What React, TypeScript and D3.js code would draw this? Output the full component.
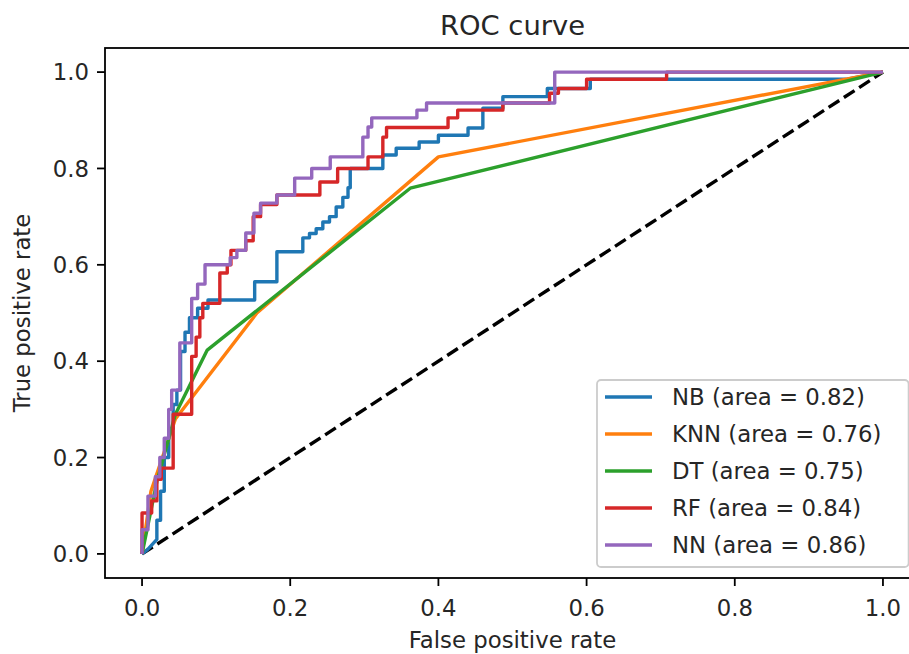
import React from "react";
import * as d3 from "d3";

// ---- Data ----
const nbFpr = [0, 0.008, 0.02, 0.02, 0.025, 0.025, 0.03, 0.03, 0.036, 0.036, 0.042, 0.042, 0.047, 0.047, 0.052, 0.052, 0.058, 0.058, 0.064, 0.064, 0.075, 0.075, 0.089, 0.089, 0.152, 0.152, 0.182, 0.182, 0.217, 0.217, 0.226, 0.226, 0.235, 0.235, 0.244, 0.244, 0.253, 0.253, 0.262, 0.262, 0.271, 0.271, 0.278, 0.278, 0.281, 0.281, 0.325, 0.325, 0.343, 0.343, 0.374, 0.374, 0.4, 0.4, 0.44, 0.44, 0.46, 0.46, 0.487, 0.487, 0.547, 0.547, 0.605, 0.605, 0.95, 1];
const nbTpr = [0, 0.01, 0.03, 0.07, 0.07, 0.13, 0.13, 0.2, 0.2, 0.26, 0.26, 0.31, 0.31, 0.34, 0.34, 0.42, 0.42, 0.46, 0.46, 0.49, 0.49, 0.51, 0.51, 0.527, 0.527, 0.565, 0.565, 0.627, 0.627, 0.656, 0.656, 0.665, 0.665, 0.675, 0.675, 0.689, 0.689, 0.7, 0.7, 0.72, 0.72, 0.74, 0.74, 0.76, 0.76, 0.8, 0.8, 0.828, 0.828, 0.842, 0.842, 0.855, 0.855, 0.869, 0.869, 0.884, 0.884, 0.925, 0.925, 0.949, 0.949, 0.966, 0.966, 0.985, 0.985, 1];

const knnFpr = [0, 0.012, 0.045, 0.155, 0.4, 1];
const knnTpr = [0, 0.13, 0.28, 0.5, 0.824, 1];

const dtFpr = [0, 0.02, 0.045, 0.088, 0.362, 1];
const dtTpr = [0, 0.15, 0.29, 0.423, 0.759, 1];

const rfFpr = [0, 0, 0.013, 0.013, 0.02, 0.02, 0.026, 0.026, 0.042, 0.042, 0.067, 0.067, 0.073, 0.073, 0.078, 0.078, 0.082, 0.082, 0.105, 0.105, 0.115, 0.115, 0.12, 0.12, 0.14, 0.14, 0.15, 0.15, 0.16, 0.16, 0.182, 0.182, 0.24, 0.24, 0.264, 0.264, 0.305, 0.305, 0.325, 0.325, 0.33, 0.33, 0.413, 0.413, 0.426, 0.426, 0.487, 0.487, 0.55, 0.55, 0.562, 0.562, 0.6, 0.6, 0.708, 0.708, 1];
const rfTpr = [0, 0.085, 0.085, 0.11, 0.11, 0.155, 0.155, 0.178, 0.178, 0.29, 0.29, 0.41, 0.41, 0.45, 0.45, 0.49, 0.49, 0.52, 0.52, 0.583, 0.583, 0.6, 0.6, 0.63, 0.63, 0.65, 0.65, 0.7, 0.7, 0.725, 0.725, 0.745, 0.745, 0.772, 0.772, 0.8, 0.8, 0.824, 0.824, 0.865, 0.865, 0.885, 0.885, 0.905, 0.905, 0.921, 0.921, 0.936, 0.936, 0.956, 0.956, 0.966, 0.966, 0.985, 0.985, 1, 1];

const nnFpr = [0, 0, 0.008, 0.008, 0.018, 0.018, 0.024, 0.024, 0.03, 0.03, 0.036, 0.036, 0.04, 0.04, 0.051, 0.051, 0.067, 0.067, 0.075, 0.075, 0.085, 0.085, 0.119, 0.119, 0.128, 0.128, 0.14, 0.14, 0.151, 0.151, 0.16, 0.16, 0.182, 0.182, 0.206, 0.206, 0.229, 0.229, 0.254, 0.254, 0.298, 0.298, 0.305, 0.305, 0.31, 0.31, 0.371, 0.371, 0.384, 0.384, 0.557, 0.557, 1];
const nnTpr = [0, 0.05, 0.05, 0.12, 0.12, 0.16, 0.16, 0.2, 0.2, 0.24, 0.24, 0.3, 0.3, 0.34, 0.34, 0.438, 0.438, 0.53, 0.53, 0.56, 0.56, 0.6, 0.6, 0.615, 0.615, 0.63, 0.63, 0.666, 0.666, 0.707, 0.707, 0.728, 0.728, 0.745, 0.745, 0.78, 0.78, 0.8, 0.8, 0.824, 0.824, 0.865, 0.865, 0.886, 0.886, 0.905, 0.905, 0.921, 0.921, 0.936, 0.936, 1, 1];

const seriesNames = ["NB", "KNN", "DT", "RF", "NN"];
const seriesAreas = ["0.82", "0.76", "0.75", "0.84", "0.86"];
const seriesColors = ["#1f77b4", "#ff7f0e", "#2ca02c", "#d62728", "#9467bd"];
const seriesFpr = [nbFpr, knnFpr, dtFpr, rfFpr, nnFpr];
const seriesTpr = [nbTpr, knnTpr, dtTpr, rfTpr, nnTpr];

const diagX = [0, 1];
const diagY = [0, 1];

const tickValues = [0, 0.2, 0.4, 0.6, 0.8, 1.0];

const titleText = "ROC curve";
const xLabel = "False positive rate";
const yLabel = "True positive rate";

export default function App() {
  const W = 909;
  const H = 654;
  const left = 105, right = 920, top = 48, bottom = 578;
  const x = d3.scaleLinear().domain([-0.05, 1.05]).range([left, right]);
  const y = d3.scaleLinear().domain([-0.05, 1.05]).range([bottom, top]);
  const line = d3
    .line<[number, number]>()
    .x((d) => x(d[0]))
    .y((d) => y(d[1]));

  const font = "'DejaVu Sans', sans-serif";
  const fs = 22.8;
  const textColor = "#262626";

  const legendLeft = 597;
  const legendRight = 908.6;
  const legendTop = 380;
  const legendBottom = 567;
  const rowY0 = 397;
  const rowStep = 37;

  return (
    <svg
      width={W}
      height={H}
      style={{ position: "absolute", left: 0, top: 0, background: "#fff" }}
      fontFamily={font}
    >
      <defs>
        <clipPath id="plotclip">
          <rect x={left} y={top} width={right - left} height={bottom - top} />
        </clipPath>
      </defs>
      <rect x={0} y={0} width={W} height={H} fill="#fff" />

      <g clipPath="url(#plotclip)">
        <path
          d={line(diagX.map((v, i) => [v, diagY[i]]) as [number, number][]) || ""}
          fill="none"
          stroke="#000"
          strokeWidth={3.4}
          strokeDasharray="12.7 5.5"
        />
        {seriesNames.map((name, k) => (
          <path
            key={name}
            d={line(seriesFpr[k].map((v, i) => [v, seriesTpr[k][i]]) as [number, number][]) || ""}
            fill="none"
            stroke={seriesColors[k]}
            strokeWidth={3.4}
            strokeLinejoin="round"
          />
        ))}
      </g>

      {/* spines */}
      <rect
        x={left}
        y={top}
        width={right - left}
        height={bottom - top}
        fill="none"
        stroke="#000"
        strokeWidth={1.8}
      />

      {/* x ticks */}
      {tickValues.map((t) => (
        <g key={"x" + t}>
          <line x1={x(t)} x2={x(t)} y1={bottom} y2={bottom + 8} stroke="#000" strokeWidth={1.8} />
          <text x={x(t)} y={616} textAnchor="middle" fontSize={fs} fill={textColor}>
            {t.toFixed(1)}
          </text>
        </g>
      ))}
      {/* y ticks */}
      {tickValues.map((t) => (
        <g key={"y" + t}>
          <line x1={left - 8} x2={left} y1={y(t)} y2={y(t)} stroke="#000" strokeWidth={1.8} />
          <text x={89} y={y(t) + 8.3} textAnchor="end" fontSize={fs} fill={textColor}>
            {t.toFixed(1)}
          </text>
        </g>
      ))}

      <text x={(left + right) / 2} y={35} textAnchor="middle" fontSize={27.4} fill={textColor}>
        {titleText}
      </text>
      <text x={(left + right) / 2} y={648} textAnchor="middle" fontSize={fs} fill={textColor}>
        {xLabel}
      </text>
      <text
        transform={`translate(30, ${(top + bottom) / 2}) rotate(-90)`}
        textAnchor="middle"
        fontSize={fs}
        fill={textColor}
      >
        {yLabel}
      </text>

      {/* legend */}
      <rect
        x={legendLeft}
        y={legendTop}
        width={legendRight - legendLeft}
        height={legendBottom - legendTop}
        rx={4}
        fill="#fff"
        fillOpacity={0.8}
        stroke="#cccccc"
        strokeWidth={1.8}
      />
      {seriesNames.map((name, k) => (
        <g key={"lg" + name}>
          <line
            x1={605}
            x2={652}
            y1={rowY0 + k * rowStep}
            y2={rowY0 + k * rowStep}
            stroke={seriesColors[k]}
            strokeWidth={3.4}
          />
          <text x={672} y={rowY0 + k * rowStep + 8.3} fontSize={fs} fill={textColor}>
            {`${name} (area = ${seriesAreas[k]})`}
          </text>
        </g>
      ))}
    </svg>
  );
}
